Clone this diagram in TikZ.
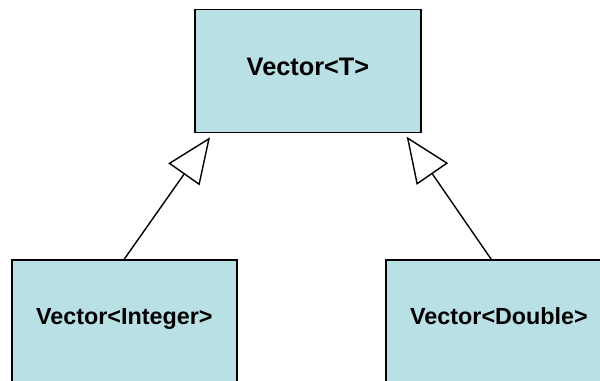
\documentclass[tikz,border=0pt]{standalone}
\usepackage{fontspec}
\setmainfont{Liberation Sans}
\usetikzlibrary{arrows.meta}
\definecolor{boxfill}{RGB}{185,224,228}
\begin{document}
\begin{tikzpicture}[x=0.75pt,y=-0.75pt,
  cls/.style={draw=black,line width=1.4pt,fill=boxfill,inner sep=0pt,align=center},
  inh/.style={line width=1.05pt,-{Triangle[open,length=34pt,width=28.5pt]}}]
\useasboundingbox (0,0) rectangle (600,381);
\clip (0,0) rectangle (600,381);
\node[cls,minimum width=170pt,minimum height=92.25pt,font=\fontsize{19}{22}\selectfont\bfseries,text height=0.716em,text depth=0pt] (top) at (308,71) {Vector<T>};
\node[cls,minimum width=168.5pt,minimum height=91.5pt,font=\fontsize{17.5}{20}\selectfont\bfseries,text height=0.716em,text depth=0.2em] (bl) at (124.3,321) {Vector<Integer>};
\node[cls,minimum width=169.5pt,minimum height=91.5pt,font=\fontsize{17.5}{20}\selectfont\bfseries,text height=0.716em,text depth=0.2em] (br) at (499,321) {Vector<Double>};
\coordinate (t1) at (210,137.3);
\coordinate (t2) at (406.7,136.7);
\coordinate (s2) at (491.7,260);
\draw[inh] (bl.north) -- (t1);
\draw[inh] (s2) -- (t2);
\end{tikzpicture}
\end{document}
